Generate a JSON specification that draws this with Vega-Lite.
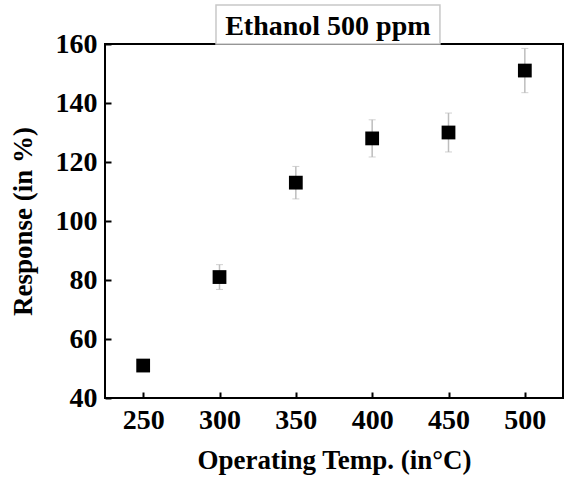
{
  "$schema": "https://vega.github.io/schema/vega-lite/v6.json",
  "width": 458,
  "height": 354,
  "autosize": "none",
  "padding": {"left": 105, "top": 44, "right": 7, "bottom": 79},
  "background": "white",
  "config": {
    "font": "Liberation Serif",
    "view": {"stroke": "black", "strokeWidth": 2},
    "axis": {
      "zindex": 1,
      "grid": false,
      "domain": false,
      "offset": -6,
      "ticks": true,
      "tickColor": "black",
      "tickWidth": 2,
      "tickSize": 6,
      "labelFont": "Liberation Serif",
      "labelFontWeight": "bold",
      "labelFontSize": 28,
      "labelColor": "black",
      "titleFont": "Liberation Serif",
      "titleFontWeight": "bold",
      "titleFontSize": 27,
      "titleColor": "black"
    }
  },
  "data": {
    "values": [
      {"temp": 250, "response": 51, "err": 1.5},
      {"temp": 300, "response": 81, "err": 4.2},
      {"temp": 350, "response": 113, "err": 5.5},
      {"temp": 400, "response": 128, "err": 6.3},
      {"temp": 450, "response": 130, "err": 6.6},
      {"temp": 500, "response": 151, "err": 7.5}
    ]
  },
  "layer": [
    {
      "mark": {"type": "errorbar", "ticks": {"size": 7, "color": "#bdbdbd", "strokeWidth": 1.5}, "rule": {"color": "#bdbdbd", "strokeWidth": 1.5}},
      "encoding": {
        "x": {"field": "temp", "type": "quantitative", "title": "Operating Temp. (in°C)"},
        "y": {"field": "response", "type": "quantitative", "title": "Response (in %)"},
        "yError": {"field": "err"}
      }
    },
    {
      "mark": {"type": "point", "shape": "square", "filled": true, "color": "black", "size": 190, "opacity": 1},
      "encoding": {
        "x": {
          "field": "temp",
          "type": "quantitative",
          "title": "Operating Temp. (in°C)",
          "scale": {"domain": [225, 525], "nice": false, "zero": false},
          "axis": {"values": [250, 300, 350, 400, 450, 500], "labelPadding": 8, "titlePadding": 13}
        },
        "y": {
          "field": "response",
          "type": "quantitative",
          "title": "Response (in %)",
          "scale": {"domain": [40, 160], "nice": false, "zero": false},
          "axis": {"values": [40, 60, 80, 100, 120, 140, 160], "labelPadding": 8, "titlePadding": 18}
        }
      }
    },
    {
      "data": {"values": [{"label": "Ethanol 500 ppm"}]},
      "mark": {"type": "rect", "fill": "white", "stroke": "#c8c8c8", "strokeWidth": 1.5, "clip": false},
      "encoding": {
        "x": {"datum": 297.7, "type": "quantitative"},
        "x2": {"datum": 444.4},
        "y": {"datum": 173.2, "type": "quantitative"},
        "y2": {"datum": 160}
      }
    },
    {
      "data": {"values": [{"label": "Ethanol 500 ppm"}]},
      "mark": {"type": "text", "font": "Liberation Serif", "fontWeight": "bold", "fontSize": 28, "color": "black", "baseline": "alphabetic", "align": "center", "clip": false},
      "encoding": {
        "text": {"field": "label"},
        "x": {"datum": 371, "type": "quantitative"},
        "y": {"datum": 163.05, "type": "quantitative"}
      }
    }
  ]
}
